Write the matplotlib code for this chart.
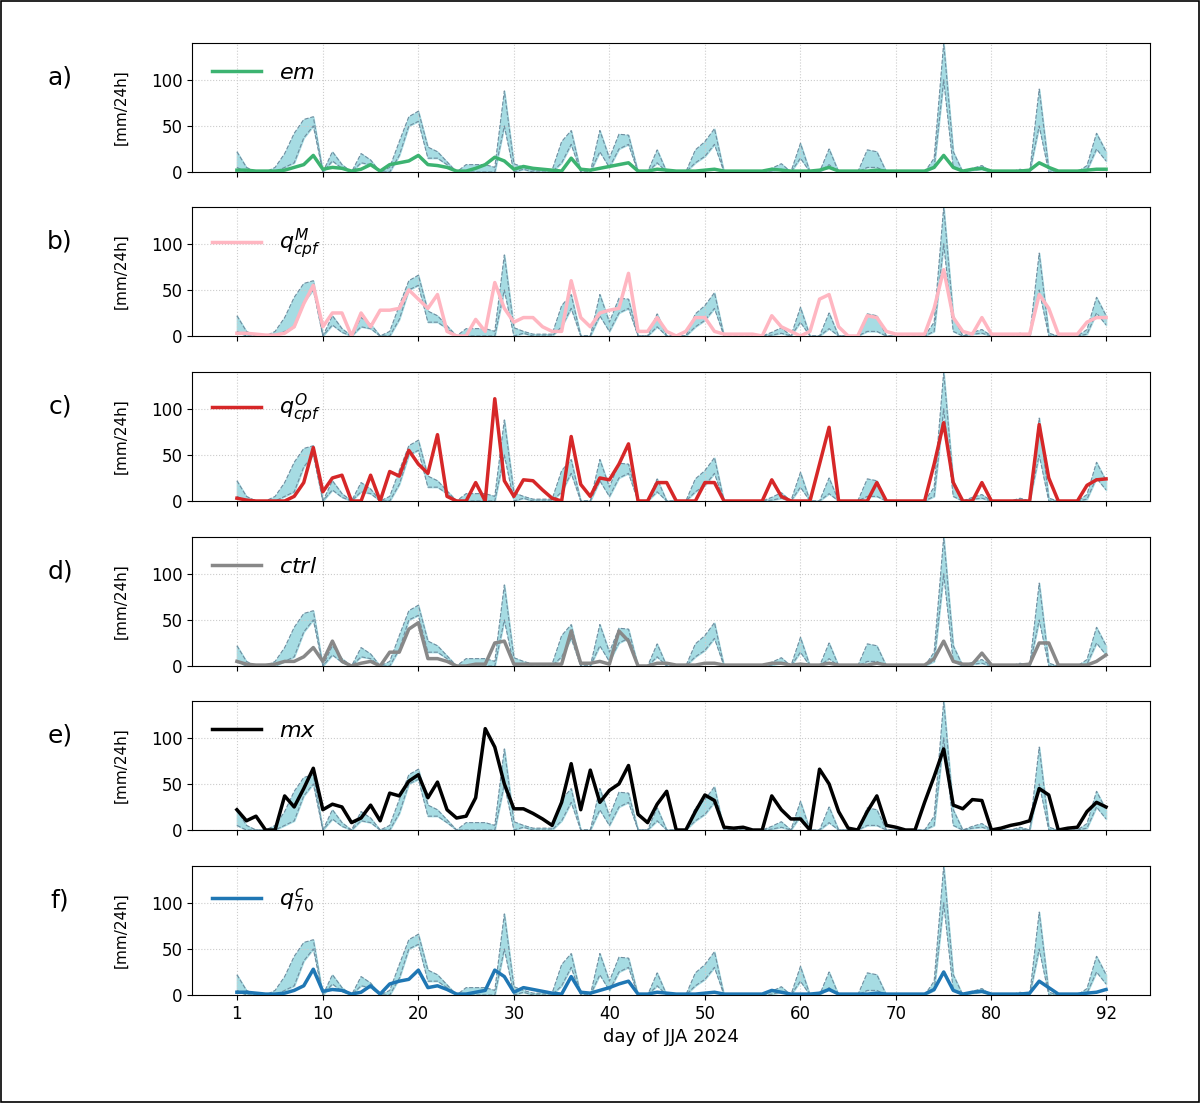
import numpy as np
import matplotlib
matplotlib.use("Agg")
import matplotlib.pyplot as plt

days = np.arange(1, 93)

band_hi = [22,5,0,0,5,20,42,57,60,0,22,8,0,20,13,0,5,33,60,66,27,22,11,0,8,8,8,5,88,9,
           5,2,2,2,33,45,0,0,45,15,41,40,0,0,24,0,0,0,24,33,47,0,0,0,0,0,4,9,0,31,
           0,0,25,0,0,0,24,22,0,0,0,0,0,15,140,22,0,4,7,0,0,0,3,0,90,3,0,0,0,7,42,22]
band_lo = [5,0,0,0,0,5,10,37,50,0,12,4,0,10,8,0,0,18,50,55,15,15,8,0,0,0,0,0,50,0,
           3,0,0,0,10,30,0,0,22,5,25,30,0,0,10,0,0,0,10,17,30,0,0,0,0,0,1,3,0,15,
           0,0,8,0,0,0,5,5,0,0,0,0,0,5,100,5,0,2,3,0,0,0,1,0,50,0,0,0,0,2,25,12]

em = [2,2,1,1,1,2,5,8,18,3,5,4,1,3,8,1,8,10,12,18,8,7,5,1,1,4,8,16,12,3,
      6,4,3,2,1,15,3,2,4,6,8,10,1,1,3,2,1,1,1,2,3,1,1,1,1,1,3,2,1,1,
      1,2,5,1,1,1,1,2,1,1,1,1,1,5,18,5,1,3,4,1,1,1,1,2,10,5,1,1,1,2,3,3]
qM = [3,3,2,1,1,3,10,35,55,10,25,25,0,25,10,28,28,30,50,40,30,45,5,0,0,18,5,58,30,15,
      20,20,10,5,5,60,20,10,25,28,30,68,5,5,20,5,0,5,20,20,5,2,2,2,2,0,22,10,5,0,
      5,40,45,10,0,0,22,20,5,2,2,2,2,30,72,20,5,2,20,2,2,2,2,2,45,30,2,2,2,15,20,20]
qO = [3,1,0,0,0,0,5,20,58,10,25,28,0,0,28,0,32,27,55,40,30,72,5,0,0,20,0,111,22,5,
      23,22,12,3,0,70,18,5,25,23,40,62,0,0,20,20,0,0,0,20,20,0,0,0,0,0,23,5,0,0,
      0,40,80,0,0,0,0,20,0,0,0,0,0,40,85,20,0,0,20,0,0,0,0,0,83,25,0,0,0,17,23,24]
ctrl = [5,2,1,1,2,5,5,10,20,5,27,5,0,3,5,0,15,15,40,47,8,8,5,0,0,2,2,25,27,2,
        2,2,2,2,2,38,3,3,5,2,38,27,0,0,3,3,1,1,1,3,3,1,1,1,1,1,3,3,1,2,
        1,1,3,1,1,1,1,3,1,1,1,1,1,8,27,5,2,2,14,1,1,1,1,2,25,25,1,1,1,1,5,12]
mx = [22,10,15,0,0,37,25,45,67,22,28,25,8,13,27,10,40,37,53,60,35,52,22,13,15,35,110,90,50,23,
      23,18,12,5,30,72,22,65,30,43,50,70,17,8,28,42,0,0,20,38,32,3,2,3,0,0,37,22,12,12,
      0,66,50,20,2,0,20,37,5,3,0,0,30,58,88,27,23,33,32,0,2,5,7,10,45,38,0,2,3,20,30,25]
q70 = [3,3,2,1,1,2,5,10,28,4,6,5,1,3,10,1,12,15,17,27,8,10,6,1,1,3,5,27,20,3,
       8,6,4,2,1,20,3,2,5,8,12,15,1,1,3,2,1,1,1,2,3,1,1,1,1,1,5,3,1,1,
       1,2,6,1,1,1,1,2,1,1,1,1,1,6,25,5,1,3,4,1,1,1,1,2,15,8,1,1,1,2,3,6]

series = [("a)", em, r"$em$", "#3cb371"),
          ("b)", qM, r"$q^{M}_{cpf}$", "#ffb6c1"),
          ("c)", qO, r"$q^{O}_{cpf}$", "#d62728"),
          ("d)", ctrl, r"$ctrl$", "#888888"),
          ("e)", mx, r"$mx$", "#000000"),
          ("f)", q70, r"$q^{c}_{70}$", "#1f77b4")]

fig = plt.figure(figsize=(12, 11.03), dpi=100)
W, H = 1200, 1103
tops = [43, 207, 372, 537, 701, 866]
ph = 129
for i, (lab, vals, name, col) in enumerate(series):
    top = tops[i]
    ax = fig.add_axes([192/W, 1-(top+ph)/H, (1150-192)/W, ph/H])
    ax.fill_between(days, band_lo, band_hi, color="#a6dce3", zorder=1)
    ax.plot(days, band_hi, color="#6f8ea0", ls="--", lw=0.8, zorder=2)
    ax.plot(days, band_lo, color="#6f8ea0", ls="--", lw=0.8, zorder=2)
    ax.plot(days, vals, color=col, lw=2.5, label=name, zorder=3)
    ax.set_xlim(-3.7, 96.6)
    ax.set_ylim(0, 140)
    ax.set_yticks([0, 50, 100])
    ax.set_xticks([1, 10, 20, 30, 40, 50, 60, 70, 80, 92])
    ax.grid(True, ls=":", color="#cccccc", lw=0.8)
    ax.tick_params(labelsize=12)
    if i < 5:
        ax.tick_params(labelbottom=False)
    else:
        ax.set_xlabel("day of JJA 2024", fontsize=13)
    ax.set_ylabel("[mm/24h]", fontsize=11, labelpad=16)
    ax.legend(loc="upper left", frameon=False, fontsize=16, handlelength=2.2)
    fig.text(60/W, 1-(top+ph*0.27)/H, lab, fontsize=18, ha="center", va="center")

fig.patches.append(plt.Rectangle((0.001, 0.001), 0.998, 0.998, transform=fig.transFigure,
                                 fill=False, ec="black", lw=1.2))
fig.savefig("out.png", dpi=100)
